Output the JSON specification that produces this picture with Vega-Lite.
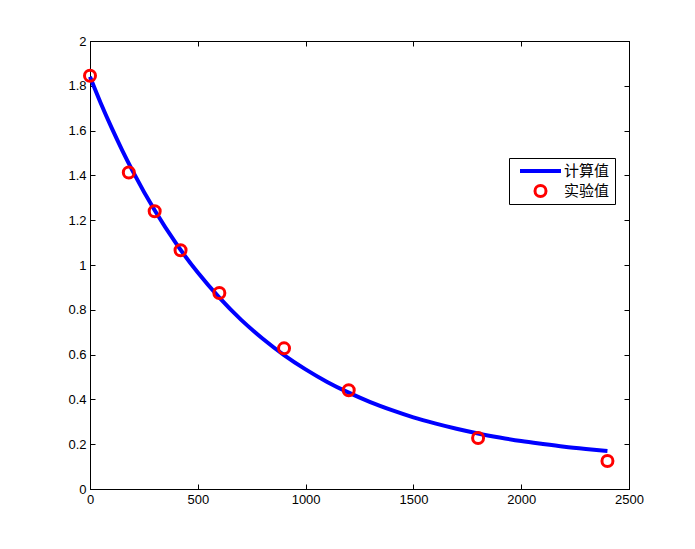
{
  "$schema": "https://vega.github.io/schema/vega-lite/v6.json",
  "width": 539,
  "height": 448,
  "autosize": "none",
  "padding": {"left": 90, "top": 41, "right": 66, "bottom": 60},
  "background": "white",
  "config": {
    "view": {"stroke": "black", "strokeWidth": 1},
    "axis": {
      "domainColor": "black",
      "tickColor": "black",
      "labelColor": "black",
      "labelFont": "Liberation Sans",
      "labelFontSize": 13,
      "labelFlush": false,
      "labelOverlap": false,
      "grid": false,
      "tickSize": -5,
      "title": null
    }
  },
  "datasets": {
    "calc": [
      {"x": 0, "y": 1.84, "series": "计算值"},
      {"x": 50, "y": 1.722, "series": "计算值"},
      {"x": 100, "y": 1.613, "series": "计算值"},
      {"x": 150, "y": 1.511, "series": "计算值"},
      {"x": 200, "y": 1.416, "series": "计算值"},
      {"x": 300, "y": 1.244, "series": "计算值"},
      {"x": 400, "y": 1.095, "series": "计算值"},
      {"x": 500, "y": 0.966, "series": "计算值"},
      {"x": 600, "y": 0.854, "series": "计算值"},
      {"x": 700, "y": 0.756, "series": "计算值"},
      {"x": 800, "y": 0.672, "series": "计算值"},
      {"x": 900, "y": 0.598, "series": "计算值"},
      {"x": 1000, "y": 0.534, "series": "计算值"},
      {"x": 1100, "y": 0.478, "series": "计算值"},
      {"x": 1200, "y": 0.43, "series": "计算值"},
      {"x": 1300, "y": 0.388, "series": "计算值"},
      {"x": 1400, "y": 0.352, "series": "计算值"},
      {"x": 1500, "y": 0.32, "series": "计算值"},
      {"x": 1600, "y": 0.293, "series": "计算值"},
      {"x": 1700, "y": 0.269, "series": "计算值"},
      {"x": 1800, "y": 0.248, "series": "计算值"},
      {"x": 1900, "y": 0.23, "series": "计算值"},
      {"x": 2000, "y": 0.214, "series": "计算值"},
      {"x": 2100, "y": 0.201, "series": "计算值"},
      {"x": 2200, "y": 0.189, "series": "计算值"},
      {"x": 2300, "y": 0.179, "series": "计算值"},
      {"x": 2400, "y": 0.17, "series": "计算值"}
    ],
    "exp": [
      {"x": 0, "y": 1.845, "series": "实验值"},
      {"x": 180, "y": 1.413, "series": "实验值"},
      {"x": 300, "y": 1.24, "series": "实验值"},
      {"x": 420, "y": 1.066, "series": "实验值"},
      {"x": 600, "y": 0.875, "series": "实验值"},
      {"x": 900, "y": 0.628, "series": "实验值"},
      {"x": 1200, "y": 0.441, "series": "实验值"},
      {"x": 1800, "y": 0.228, "series": "实验值"},
      {"x": 2400, "y": 0.125, "series": "实验值"}
    ]
  },
  "layer": [
    {
      "data": {"name": "calc"},
      "mark": {"type": "line", "strokeWidth": 4, "interpolate": "monotone"},
      "encoding": {
        "x": {"field": "x", "type": "quantitative", "scale": {"domain": [0, 2500], "nice": false, "zero": false, "padding": 0},
              "axis": {"orient": "bottom", "values": [0, 500, 1000, 1500, 2000, 2500], "format": "d", "labelPadding": 9}},
        "y": {"field": "y", "type": "quantitative", "scale": {"domain": [0, 2], "nice": false, "zero": false, "padding": 0},
              "axis": {"orient": "left", "values": [0, 0.2, 0.4, 0.6, 0.8, 1, 1.2, 1.4, 1.6, 1.8, 2], "format": "~g", "labelPadding": 9}},
        "color": {
          "field": "series", "type": "nominal",
          "scale": {"domain": ["计算值", "实验值"], "range": ["#0000ff", "#ff0000"]},
          "legend": {
            "orient": "none", "legendX": 419, "legendY": 117,
            "title": null,
            "strokeColor": "black", "fillColor": "white",
            "padding": 5,
            "labelFont": "Noto Sans CJK SC", "labelFontSize": 15, "labelColor": "black",
            "labelOffset": 16,
            "symbolOffset": 19,
            "symbolSize": 121,
            "clipHeight": 16,
            "rowPadding": 4,
            "encode": {
              "symbols": {
                "update": {
                  "shape": {"signal": "datum.value === '计算值' ? 'stroke' : 'circle'"},
                  "size": {"signal": "datum.value === '计算值' ? 1681 : 121"},
                  "strokeWidth": {"signal": "datum.value === '计算值' ? 4 : 3"},
                  "fill": {"value": "transparent"},
                  "opacity": {"value": 1}
                }
              }
            }
          }
        }
      }
    },
    {
      "data": {"name": "exp"},
      "mark": {"type": "point", "shape": "circle", "filled": false, "size": 121, "strokeWidth": 3, "opacity": 1},
      "encoding": {
        "x": {"field": "x", "type": "quantitative", "scale": {"domain": [0, 2500], "nice": false, "zero": false, "padding": 0},
              "axis": {"orient": "top", "labels": false, "values": [0, 500, 1000, 1500, 2000, 2500]}},
        "y": {"field": "y", "type": "quantitative", "scale": {"domain": [0, 2], "nice": false, "zero": false, "padding": 0},
              "axis": {"orient": "right", "labels": false, "values": [0, 0.2, 0.4, 0.6, 0.8, 1, 1.2, 1.4, 1.6, 1.8, 2]}},
        "color": {"field": "series", "type": "nominal"}
      }
    }
  ]
}
